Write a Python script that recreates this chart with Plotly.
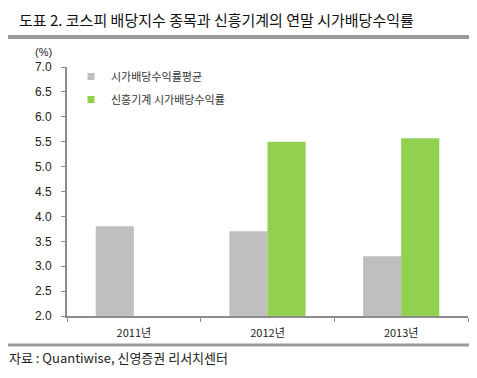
import plotly.graph_objects as go

categories = ["2011년", "2012년", "2013년"]
avg_yield = [3.8, 3.7, 3.2]
shinheung_yield = [None, 5.5, 5.57]
series_names = ["시가배당수익률평균", "신흥기계 시가배당수익률"]
series_colors = ["#BFBFBF", "#92D050"]
y_ticks = [2.0, 2.5, 3.0, 3.5, 4.0, 4.5, 5.0, 5.5, 6.0, 6.5, 7.0]

FONT = "Noto Sans CJK KR"

# page offset of the default body margin (8px) is compensated below
OFF = 8
PX_L, PX_R, PX_T, PX_B = 67, 468, 67, 316   # plot area in page pixels
W, H = 477 - OFF, 378 - OFF


def px(xp):
    return (xp - PX_L) / (PX_R - PX_L)


def py(yp):
    return (PX_B - yp) / (PX_B - PX_T)


fig = go.Figure()
for name, vals, col, grp in [(series_names[0], avg_yield, series_colors[0], "a"),
                             (series_names[1], shinheung_yield, series_colors[1], "b")]:
    fig.add_trace(go.Bar(x=categories, y=vals, name=name, legendgroup=grp,
                         showlegend=False,
                         marker=dict(color=col, line=dict(width=0))))
for name, col, grp in [(series_names[0], series_colors[0], "a"),
                       (series_names[1], series_colors[1], "b")]:
    fig.add_trace(go.Scatter(x=[None], y=[None], mode="markers", name=name,
                             legendgroup=grp, showlegend=True,
                             marker=dict(symbol="square", size=7, color=col)))

fig.update_layout(
    width=W, height=H,
    margin=dict(l=PX_L - OFF, r=W - (PX_R - OFF), t=PX_T - OFF, b=H - (PX_B - OFF)),
    paper_bgcolor="white", plot_bgcolor="white",
    barmode="group", bargap=0.43, bargroupgap=0,
    font=dict(family=FONT, size=11, color="#222222"),
    showlegend=True,
    legend=dict(x=px(71), y=py(62), xanchor="left", yanchor="top",
                font=dict(size=11, color="#333333", family=FONT), itemwidth=30,
                tracegroupgap=4, bgcolor="rgba(0,0,0,0)"),
    xaxis=dict(showline=True, linecolor="#8C8C8C", linewidth=2,
               ticks="outside", tickson="boundaries", ticklen=4,
               tickcolor="#8C8C8C", tickwidth=1, ticklabelstandoff=6,
               tickfont=dict(size=11, color="#222222", family=FONT),
               showgrid=False, zeroline=False, fixedrange=True),
    yaxis=dict(range=[2.0, 7.0], tickvals=y_ticks,
               ticktext=[f"{v:.1f}" for v in y_ticks],
               showline=True, linecolor="#8C8C8C", linewidth=2,
               ticks="outside", ticklen=4, tickcolor="#8C8C8C", tickwidth=1,
               ticklabelstandoff=7,
               tickfont=dict(size=12, color="#222222", family="Liberation Sans"),
               showgrid=False, zeroline=False, fixedrange=True),
    annotations=[
        dict(text="도표 2. 코스피 배당지수 종목과 신흥기계의 연말 시가배당수익률",
             xref="paper", yref="paper", x=px(17), y=py(19),
             xanchor="left", yanchor="middle", showarrow=False,
             font=dict(family=FONT, size=15, color="#111111")),
        dict(text="(%)", xref="paper", yref="paper",
             x=px(43), y=py(52), xanchor="center", yanchor="middle",
             showarrow=False, font=dict(family="Liberation Sans", size=11, color="#222222")),
        dict(text="자료 : Quantiwise, 신영증권 리서치센터",
             xref="paper", yref="paper", x=px(7), y=py(358),
             xanchor="left", yanchor="middle", showarrow=False,
             font=dict(family=FONT, size=13, color="#222222")),
    ],
    shapes=[
        dict(type="line", xref="paper", yref="paper",
             x0=px(6), x1=px(477), y0=py(37), y1=py(37),
             line=dict(color="#999999", width=4)),
        dict(type="line", xref="paper", yref="paper",
             x0=px(6), x1=px(477), y0=py(345), y1=py(345),
             line=dict(color="#999999", width=3)),
    ],
)

fig.write_html("out.html")
